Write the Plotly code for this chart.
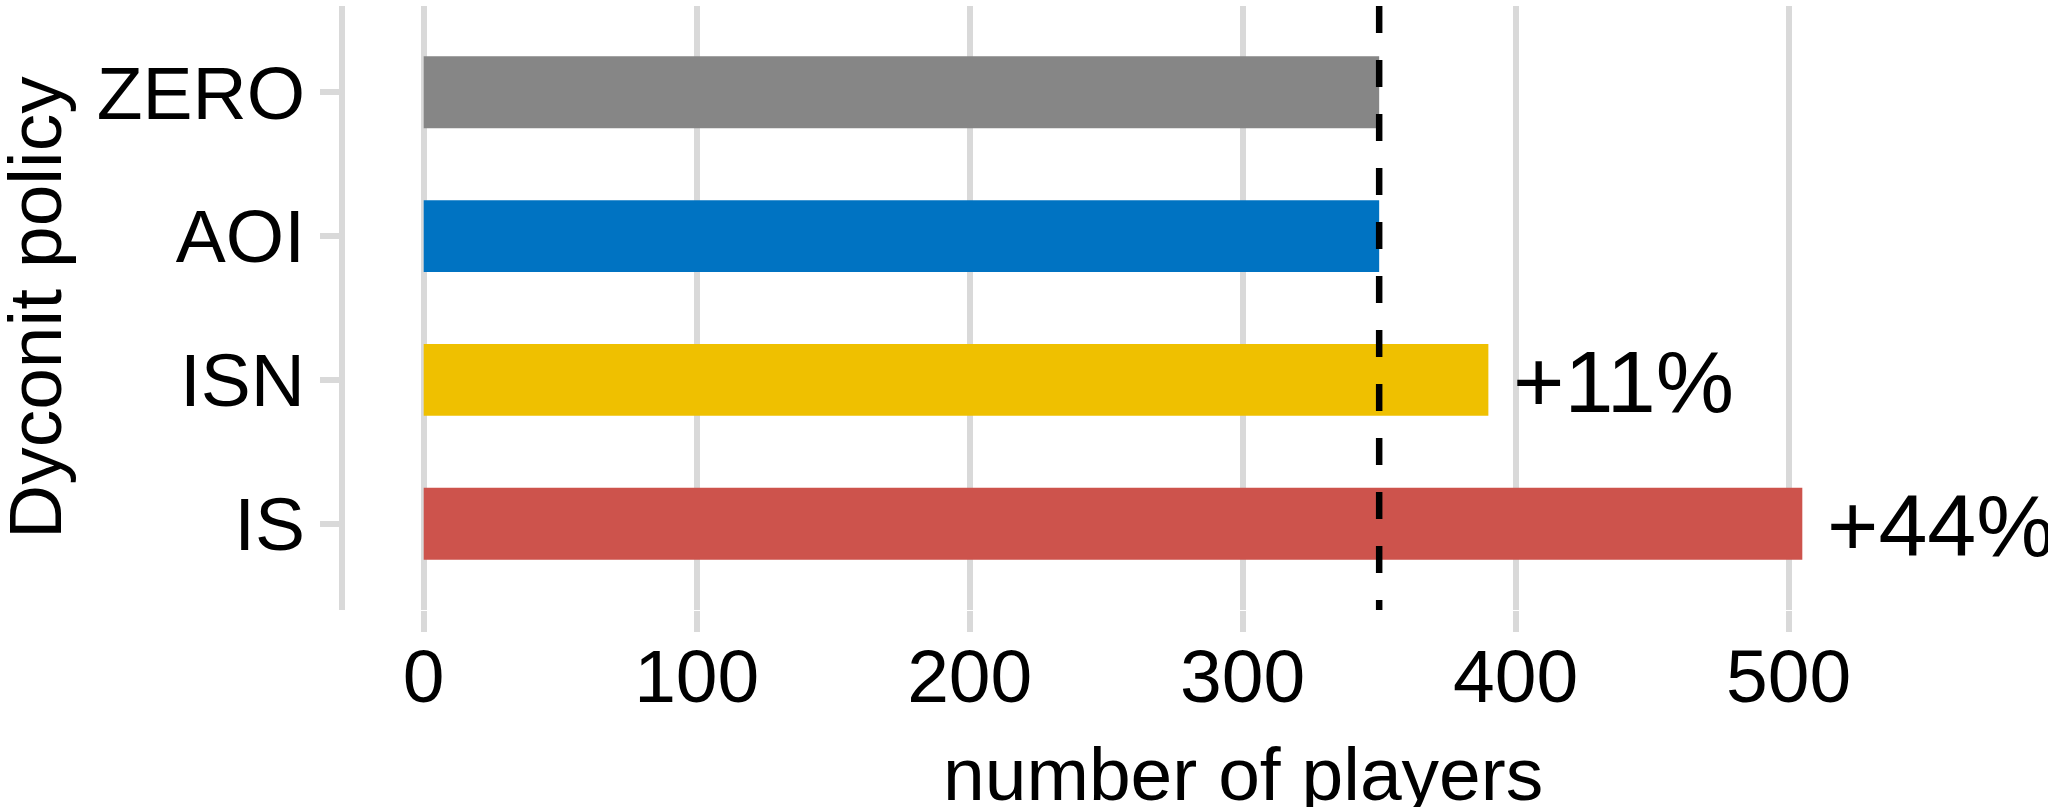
import plotly.graph_objects as go

# Dyconit policies, bottom to top
policies = ["IS", "ISN", "AOI", "ZERO"]
players = [505, 390, 350, 350]
bar_colors = ["#CD534C", "#EFC000", "#0073C2", "#868686"]
baseline_policy = "ZERO"
x_ticks = [0, 100, 200, 300, 400, 500]

FONT = "Liberation Sans, Arial, Helvetica, sans-serif"
GRID = "#D9D9D9"
W, H = 2048, 807
ML, MR, MT, MB = 345, 0, 6, 197

baseline = players[policies.index(baseline_policy)]

fig = go.Figure()
fig.add_trace(go.Bar(
    x=players,
    y=policies,
    orientation="h",
    width=0.5,
    marker=dict(color=bar_colors, line=dict(width=0)),
    showlegend=False,
    hoverinfo="x+y",
))

# relative gain over the baseline policy
for pol, val in zip(policies, players):
    pct = round((val / baseline - 1) * 100)
    if pct > 0:
        fig.add_annotation(
            x=val, y=pol, xref="x", yref="y",
            text=f"+{pct}%", showarrow=False,
            xanchor="left", yanchor="middle", xshift=23, yshift=-2,
            font=dict(family=FONT, size=88, color="black"),
        )

# baseline reference line
fig.add_shape(
    type="line", xref="x", yref="paper",
    x0=baseline, x1=baseline, y0=1, y1=0,
    line=dict(color="black", width=6.5, dash="27px,27px"),
    layer="above",
)

# axis titles
fig.add_annotation(
    text="Dyconit policy", textangle=-90, showarrow=False,
    xref="paper", yref="paper", x=(35 - ML) / (W - ML - MR), y=0.5,
    xanchor="center", yanchor="middle",
    font=dict(family=FONT, size=75, color="black"),
)
fig.add_annotation(
    text="number of players", showarrow=False,
    xref="x", yref="paper", x=300, y=(H - MB - 774) / (H - MT - MB),
    xanchor="center", yanchor="middle",
    font=dict(family=FONT, size=75, color="black"),
)

fig.update_layout(
    width=W, height=H,
    margin=dict(l=ML, r=MR, t=MT, b=MB, pad=0),
    paper_bgcolor="white", plot_bgcolor="white",
    font=dict(family=FONT, size=74, color="black"),
    xaxis=dict(
        range=[-28.83, 595.0],
        tickmode="array", tickvals=x_ticks,
        showgrid=True, gridcolor=GRID, gridwidth=6,
        zeroline=False, showline=False,
        ticks="outside", ticklen=21, tickwidth=6, tickcolor=GRID,
        ticklabelstandoff=-20,
        tickfont=dict(family=FONT, size=75, color="black"),
        fixedrange=True,
    ),
    yaxis=dict(
        type="category",
        categoryorder="array", categoryarray=policies,
        range=[-0.6, 3.6],
        showgrid=False, zeroline=False,
        showline=True, linecolor=GRID, linewidth=6,
        ticks="outside", ticklen=19, tickwidth=6, tickcolor=GRID,
        tickfont=dict(family=FONT, size=75, color="black"),
        fixedrange=True,
    ),
)

fig.write_html("out.html")
